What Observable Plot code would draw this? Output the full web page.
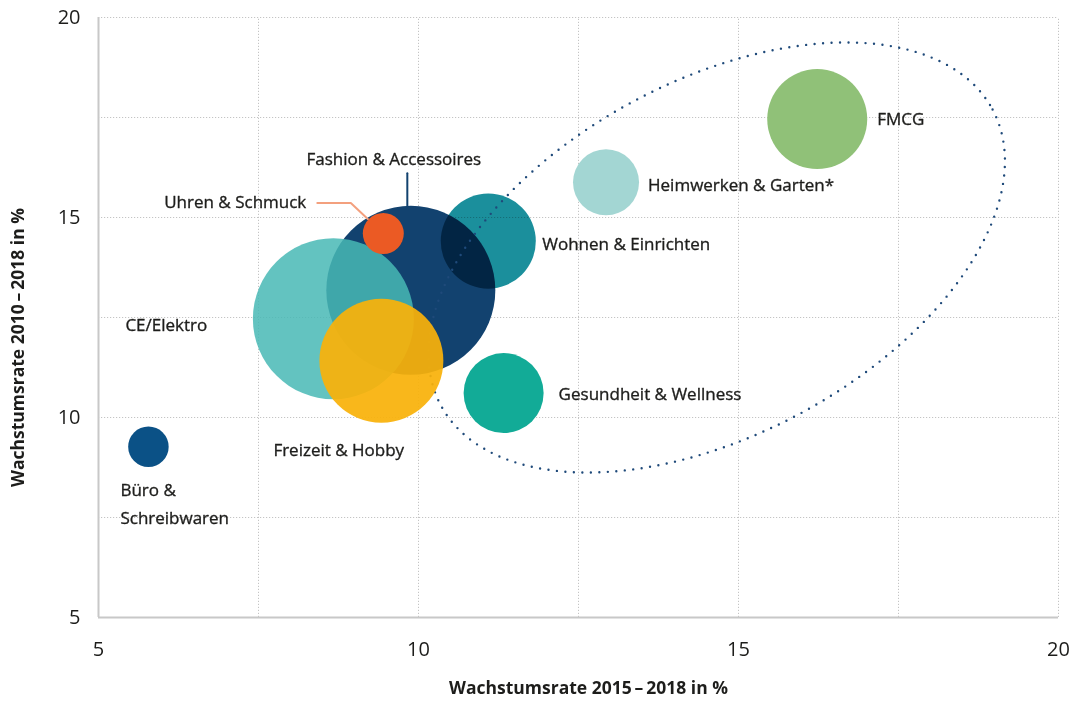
<!DOCTYPE html>
<html><head><meta charset="utf-8">
<script src="https://cdn.jsdelivr.net/npm/d3@7"></script>
<script src="https://cdn.jsdelivr.net/npm/@observablehq/plot@0.6"></script>
<style>body{margin:0;background:#fff;font-family:"Open Sans",sans-serif}</style>
</head><body><div id="chart"></div>
<script>
// ---- data ----
const categories = ["FMCG","Heimwerken & Garten*","Wohnen & Einrichten","Gesundheit & Wellness","Fashion & Accessoires","Uhren & Schmuck","CE/Elektro","Freizeit & Hobby","Büro &\nSchreibwaren"];
const growth2015_2018 = [16.23, 12.93, 11.09, 11.33, 9.88, 9.45, 8.67, 9.42, 5.78];
const growth2010_2018 = [17.46, 15.88, 14.41, 10.61, 13.18, 14.60, 12.47, 11.42, 9.27];
const marketSize = [25.0, 10.9, 22.6, 16.0, 71.4, 4.2, 64.8, 38.4, 4.1];
const xTicks = [5, 10, 15, 20];
const yTicks = [5, 10, 15, 20];
const gridStops = [7.5, 10, 12.5, 15, 17.5, 20];
const xTitle = "Wachstumsrate 2015\u2009–\u20092018 in %";
const yTitle = "Wachstumsrate 2010\u2009–\u20092018 in %";

// ---- style / layout config ----
const palette = ["#90c178","#a3d6d3","#1b8f9c","#12ab97","#12426f","#eb5a24","#48b9b5","#f9b20a","#0b5186"];
const W = 1072, H = 704, mL = 98, mR = 14, mT = 17, mB = 87;
const xDom = [5, 20], yDom = [5, 20];
const kx = (W - mL - mR) / (xDom[1] - xDom[0]);
const ky = (H - mT - mB) / (yDom[1] - yDom[0]);
const labelCfg = {
  "FMCG": {dx: 60, dy: -3, anchor: "start"},
  "Heimwerken & Garten*": {dx: 42, dy: 0, anchor: "start"},
  "Wohnen & Einrichten": {dx: 54, dy: 0, anchor: "start"},
  "Gesundheit & Wellness": {dx: 55, dy: -2, anchor: "start"},
  "Fashion & Accessoires": {dx: -17, dy: -134, anchor: "middle"},
  "Uhren & Schmuck": {dx: -77, dy: -34, anchor: "end"},
  "CE/Elektro": {dx: -208, dy: 3, anchor: "start"},
  "Freizeit & Hobby": {dx: -108, dy: 86, anchor: "start"},
  "Büro &\nSchreibwaren": {dx: -28, dy: 54, anchor: "start"}
};
// leader lines: pixel offsets from bubble centre
const leaderCfg = [
  {name: "Fashion & Accessoires", color: "#12426f", pts: [[-3.5, -117], [-3.5, -84]]},
  {name: "Uhren & Schmuck", color: "#f3a07e", pts: [[-66, -30.5], [-32.5, -30.5], [-15.5, -14.5]]}
];
// dotted ellipse annotation (data units): centre, two semi-axis vectors
const ellipse = {cx: 14.66, cy: 14.0, u: [4.31, 3.70], v: [1.306, -3.90]};

const rows = categories.map((name, i) => ({name, x: growth2015_2018[i], y: growth2010_2018[i], size: marketSize[i]}));
const byName = Object.fromEntries(rows.map(d => [d.name, d]));

const ellPts = d3.range(0, 361, 2).map(a => {
  const t = a * Math.PI / 180;
  return {x: ellipse.cx + ellipse.u[0] * Math.cos(t) + ellipse.v[0] * Math.sin(t),
          y: ellipse.cy + ellipse.u[1] * Math.cos(t) + ellipse.v[1] * Math.sin(t)};
});

const dotOpts = {x: "x", y: "y", r: "size", fill: "name"};
const pick = names => rows.filter(d => names.includes(d.name));
const ink = "#1d1d1b";
const heavy = {stroke: ink, strokeWidth: 0.35};

const marks = [
  Plot.ruleX(gridStops, {y1: yDom[0], y2: yDom[1], stroke: "#c4c4c4", strokeWidth: 1, strokeDasharray: "1.2 1.8"}),
  Plot.ruleY(gridStops, {x1: xDom[0], x2: xDom[1], stroke: "#c4c4c4", strokeWidth: 1, strokeDasharray: "1.2 1.8"}),
  Plot.ruleX([xDom[0]], {y1: yDom[0], y2: yDom[1], stroke: "#c8c8c8", strokeWidth: 2}),
  Plot.ruleY([yDom[0]], {x1: xDom[0], x2: xDom[1], stroke: "#c8c8c8", strokeWidth: 2}),
  Plot.axisX({ticks: xTicks, tickSize: 0, tickPadding: 24, fontSize: 20, fill: ink, label: null, tickFormat: d => String(d), ...heavy}),
  Plot.axisY({ticks: yTicks, tickSize: 0, tickPadding: 18, fontSize: 20, fill: ink, label: null, tickFormat: d => String(d), ...heavy}),
  Plot.dot(pick(["FMCG","Heimwerken & Garten*","Gesundheit & Wellness","Büro &\nSchreibwaren","Fashion & Accessoires"]), dotOpts),
  Plot.dot(pick(["Wohnen & Einrichten"]), {...dotOpts, mixBlendMode: "multiply"}),
  Plot.line(ellPts, {x: "x", y: "y", stroke: "#1f4a7a", strokeWidth: 2.4, strokeDasharray: "0 8.5", strokeLinecap: "round"}),
  Plot.dot(pick(["CE/Elektro"]), {...dotOpts, fillOpacity: 0.85}),
  Plot.dot(pick(["Freizeit & Hobby"]), {...dotOpts, fillOpacity: 0.93}),
  Plot.dot(pick(["Uhren & Schmuck"]), dotOpts)
];

for (const L of leaderCfg) {
  const c = byName[L.name];
  const pts = L.pts.map(([ox, oy]) => ({x: c.x + ox / kx, y: c.y - oy / ky}));
  marks.push(Plot.line(pts, {x: "x", y: "y", stroke: L.color, strokeWidth: 2}));
}
for (const d of rows) {
  const L = labelCfg[d.name];
  marks.push(Plot.text([d], {x: "x", y: "y", text: "name", dx: L.dx, dy: L.dy, textAnchor: L.anchor,
    fontSize: 17, fill: ink, lineHeight: 1.65, ...heavy}));
}
marks.push(Plot.text([xTitle], {frameAnchor: "bottom", textAnchor: "middle", dx: 10, dy: 76, fontWeight: "bold", fontSize: 17.5, fill: ink}));
marks.push(Plot.text([yTitle], {frameAnchor: "left", textAnchor: "middle", dx: -80, dy: 30, rotate: -90, fontWeight: "bold", fontSize: 17.5, fill: ink}));

const chart = Plot.plot({
  width: W, height: H, marginLeft: mL, marginRight: mR, marginTop: mT, marginBottom: mB,
  x: {domain: xDom}, y: {domain: yDom},
  r: {type: "sqrt", domain: [0, 100], range: [0, 100]},
  color: {domain: categories, range: palette},
  style: {fontFamily: "'Open Sans', sans-serif", color: ink, background: "#fff", overflow: "visible"},
  marks
});
document.getElementById("chart").appendChild(chart);
</script>
</body></html>
